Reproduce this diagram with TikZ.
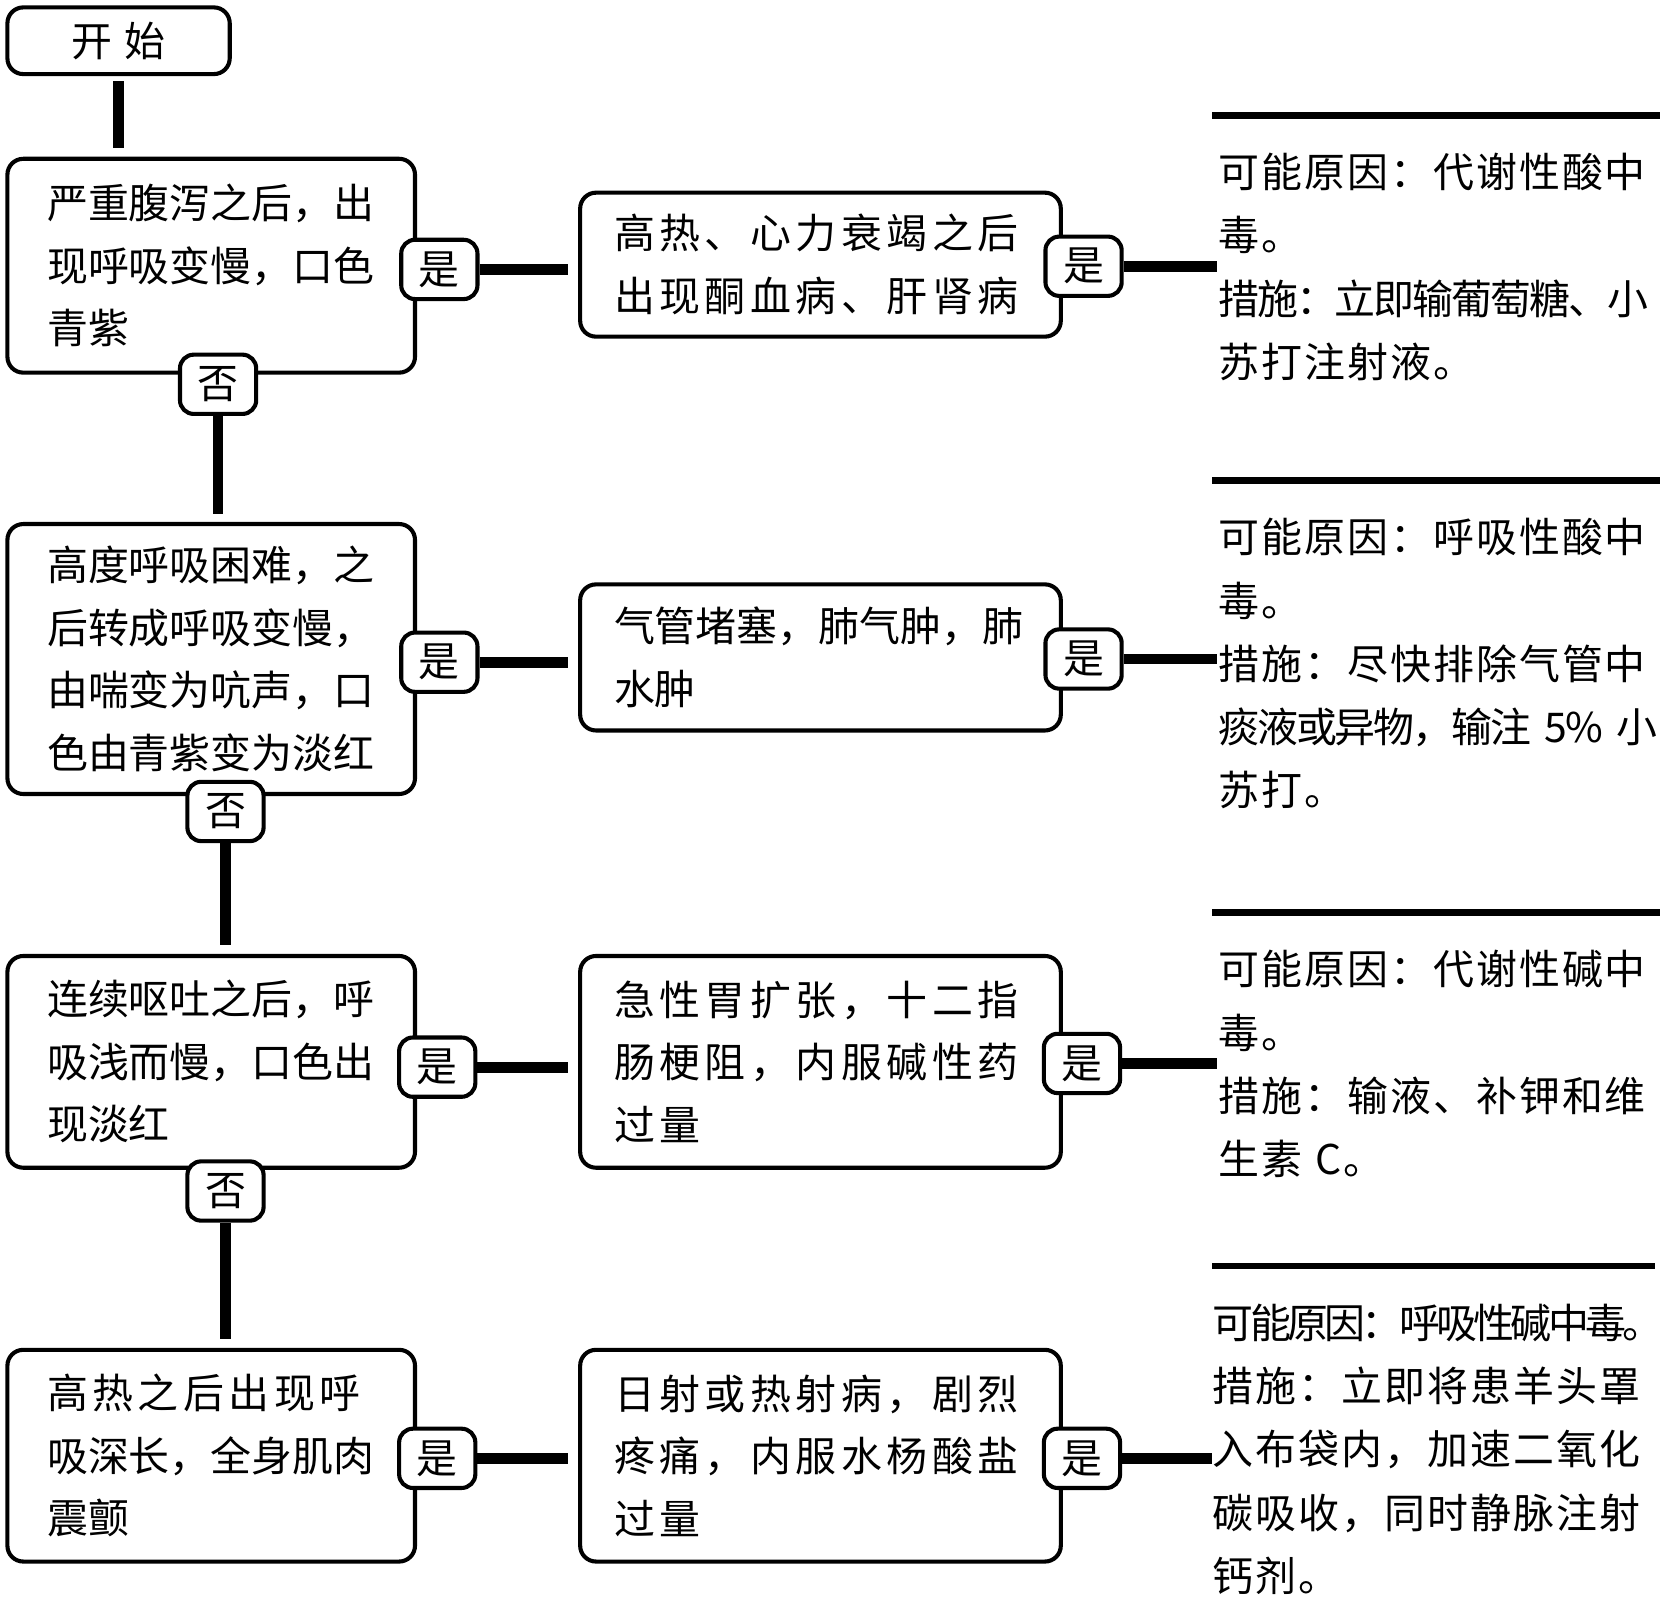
\documentclass[tikz,border=0pt]{standalone}
\usepackage{fontspec}
\setmainfont{Noto Sans CJK SC}
\newfontfamily\widecjk[LetterSpace=11]{Noto Sans CJK SC}
\newfontfamily\notecjk[LetterSpace=5]{Noto Sans CJK SC}
\newfontfamily\tightcjk[LetterSpace=-5]{Noto Sans CJK SC}
\newfontfamily\condcjk[LetterSpace=-9]{Noto Sans CJK SC}
\usepackage{tikz}
\usetikzlibrary{positioning}
\tikzstyle{startstop} = [rectangle, rounded corners=0.15cm, minimum width=2.1cm, minimum height=0.63cm, text centered, draw=black, line width=1.1pt]
\tikzstyle{process} = [rectangle, rounded corners=0.15cm, text width=3.1cm, inner xsep=0.375cm, align=left, draw=black, line width=1.1pt]
\tikzstyle{cause} = [rectangle, rounded corners=0.15cm, text width=3.9cm, inner xsep=0.32cm, align=left, draw=black, line width=1.1pt]
\tikzstyle{choice} = [rectangle, rounded corners=0.13cm, minimum width=0.72cm, minimum height=0.56cm, inner sep=0pt, draw=black, line width=1.1pt, fill=white]
\tikzstyle{note} = [inner sep=0pt, text width=4.17cm, align=left, anchor=north west, font=\notecjk\fontsize{11pt}{17pt}\selectfont]
\tikzstyle{link} = [line width=2.9pt]
\tikzstyle{bar} = [line width=1.7pt]

\begin{document}
\begin{tikzpicture}[font=\fontsize{11pt}{16.8pt}\selectfont]
\useasboundingbox (0,0) rectangle (15.68,-15.31);

\node(start) [startstop] at (1.12,-0.385) {\widecjk 开\hspace{0.12cm}始};

\node(diarrhea) [process, minimum height=2.02cm] at (1.995,-2.51) {严重腹泻之后，出\\现呼吸变慢，口色\\青紫};
\node(dyspnea) [process, minimum height=2.55cm] at (1.995,-6.225) {高度呼吸困难，之\\后转成呼吸变慢，\\由喘变为吭声，口\\色由青紫变为淡红};
\node(vomit) [process, minimum height=2.0cm] at (1.995,-10.03) {连续呕吐之后，呼\\吸浅而慢，口色出\\现淡红};
\node(fever) [process, minimum height=2.0cm] at (1.995,-13.75) {{\widecjk 高热之后出现呼}\\吸深长，全身肌肉\\震颤};

\node(ketosis) [cause, minimum height=1.36cm, font=\widecjk\fontsize{11pt}{16.8pt}\selectfont] at (7.75,-2.50) {高热、心力衰竭之后\\出现酮血病、肝肾病};
\node(airway) [cause, minimum height=1.38cm] at (7.75,-6.21) {气管堵塞，肺气肿，肺\\水肿};
\node(gastric) [cause, minimum height=2.0cm, font=\widecjk\fontsize{11pt}{16.8pt}\selectfont] at (7.75,-10.03) {急性胃扩张，十二指\\肠梗阻，内服碱性药\\过量};
\node(heatstroke) [cause, minimum height=2.0cm, font=\widecjk\fontsize{11pt}{16.8pt}\selectfont] at (7.75,-13.75) {日射或热射病，剧烈\\疼痛，内服水杨酸盐\\过量};

\node(note_met_acid) [note] at (11.5,-1.44) {可能原因：代谢性酸中\\毒。\\{\tightcjk 措施：立即输葡萄糖、小}\\苏打注射液。};
\node(note_resp_acid) [note] at (11.5,-4.89) {可能原因：呼吸性酸中\\毒。\\措施：尽快排除气管中\\\mbox{\tightcjk 痰液或异物，输注~5\%~小}\\苏打。};
\node(note_met_alk) [note] at (11.5,-8.97) {可能原因：代谢性碱中\\毒。\\措施：输液、补钾和维\\生素~C。};
\node(note_resp_alk) [note] at (11.45,-12.31) {\mbox{\condcjk 可能原因：呼吸性碱中毒。}\\措施：立即将患羊头罩\\入布袋内，加速二氧化\\碳吸收，同时静脉注射\\钙剂。};

\node(yes_diarrhea) [choice] at (4.15,-2.545) {是};
\node(no_diarrhea) [choice] at (2.06,-3.63) {否};
\node(yes_ketosis) [choice] at (10.235,-2.515) {是};
\node(yes_dyspnea) [choice] at (4.15,-6.255) {是};
\node(no_dyspnea) [choice] at (2.13,-7.665) {否};
\node(yes_airway) [choice] at (10.235,-6.225) {是};
\node(yes_vomit) [choice] at (4.13,-10.08) {是};
\node(no_vomit) [choice] at (2.13,-11.25) {否};
\node(yes_gastric) [choice] at (10.22,-10.045) {是};
\node(yes_fever) [choice] at (4.13,-13.775) {是};
\node(yes_heatstroke) [choice] at (10.22,-13.775) {是};

% down the "no" chain
\draw[link, shorten <=0.05cm, shorten >=0.08cm] (start.south) -- (start.south |- diarrhea.north);
\draw[link, shorten >=0.08cm] (no_diarrhea.south) -- (no_diarrhea.south |- dyspnea.north);
\draw[link, shorten >=0.08cm] (no_dyspnea.south) -- (no_dyspnea.south |- vomit.north);
\draw[link, shorten >=0.08cm] (no_vomit.south) -- (no_vomit.south |- fever.north);

% "yes" to the cause boxes
\draw[link, shorten >=0.1cm] (yes_diarrhea.east) -- (yes_diarrhea.east -| ketosis.west);
\draw[link, shorten >=0.1cm] (yes_dyspnea.east) -- (yes_dyspnea.east -| airway.west);
\draw[link, shorten >=0.1cm] (yes_vomit.east) -- (yes_vomit.east -| gastric.west);
\draw[link, shorten >=0.1cm] (yes_fever.east) -- (yes_fever.east -| heatstroke.west);

% "yes" to the notes
\draw[link] (yes_ketosis.east) -- (yes_ketosis.east -| note_met_acid.west);
\draw[link] (yes_airway.east) -- (yes_airway.east -| note_resp_acid.west);
\draw[link] (yes_gastric.east) -- (yes_gastric.east -| note_met_alk.west);
\draw[link] (yes_heatstroke.east) -- (yes_heatstroke.east -| note_resp_alk.west);

\draw[bar] ([xshift=-0.05cm,yshift=0.35cm]note_met_acid.north west) -- ([yshift=0.35cm]note_met_acid.north east);
\draw[bar] ([xshift=-0.05cm,yshift=0.35cm]note_resp_acid.north west) -- ([yshift=0.35cm]note_resp_acid.north east);
\draw[bar] ([xshift=-0.05cm,yshift=0.35cm]note_met_alk.north west) -- ([yshift=0.35cm]note_met_alk.north east);
\draw[bar] ([yshift=0.35cm]note_resp_alk.north west) -- ([yshift=0.35cm]note_resp_alk.north east);
\end{tikzpicture}
\end{document}
